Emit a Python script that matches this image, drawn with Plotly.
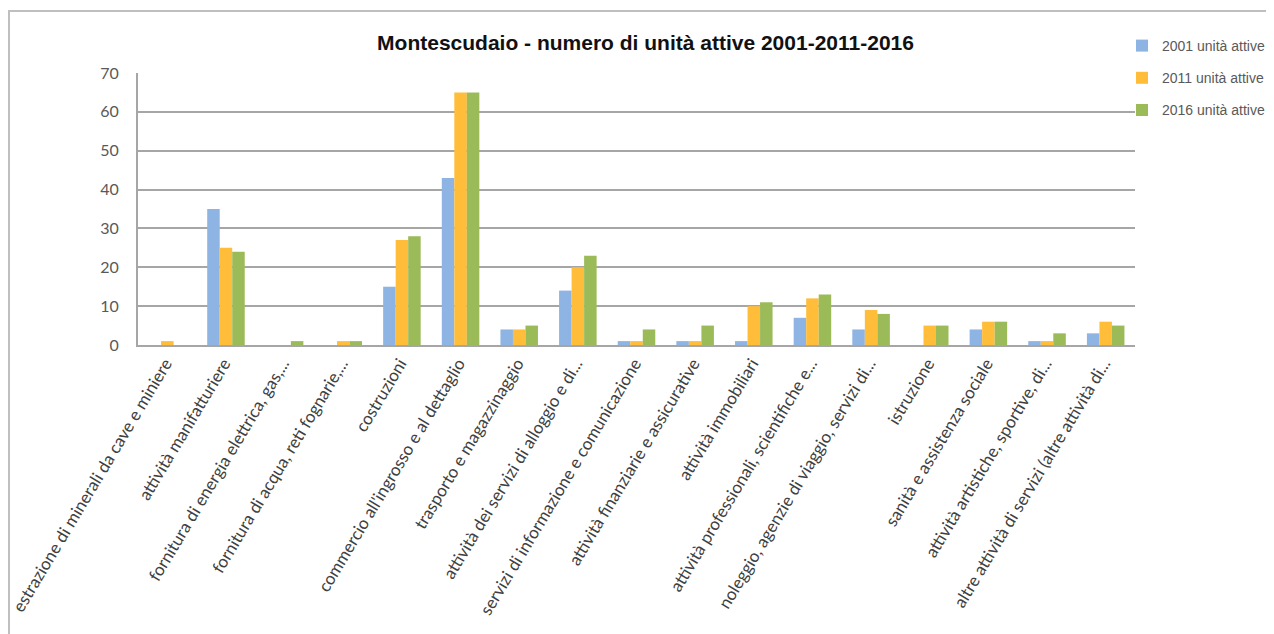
import plotly.graph_objects as go

categories = [
    "estrazione di minerali da cave e miniere",
    "attività manifatturiere",
    "fornitura di energia elettrica, gas,...",
    "fornitura di acqua, reti fognarie,...",
    "costruzioni",
    "commercio all'ingrosso e al dettaglio",
    "trasporto e magazzinaggio",
    "attività dei servizi di alloggio e di...",
    "servizi di informazione e comunicazione",
    "attività finanziarie e assicurative",
    "attività immobiliari",
    "attività professionali, scientifiche e...",
    "noleggio, agenzie di viaggio, servizi di...",
    "istruzione",
    "sanità e assistenza sociale",
    "attività artistiche, sportive, di...",
    "altre attività di servizi (altre attività di...",
]
series_names = ["2001 unità attive", "2011 unità attive", "2016 unità attive"]
values_2001 = [0, 35, 0, 0, 15, 43, 4, 14, 1, 1, 1, 7, 4, 0, 4, 1, 3]
values_2011 = [1, 25, 0, 1, 27, 65, 4, 20, 1, 1, 10, 12, 9, 5, 6, 1, 6]
values_2016 = [0, 24, 1, 1, 28, 65, 5, 23, 4, 5, 11, 13, 8, 5, 6, 3, 5]
y_ticks = [0, 10, 20, 30, 40, 50, 60, 70]

colors = ["#8DB4E2", "#FFBD3A", "#9BBB59"]

fig = go.Figure()
for i, (name, vals) in enumerate(zip(series_names, [values_2001, values_2011, values_2016])):
    fig.add_trace(go.Bar(
        x=categories, y=vals, name=name, marker_color=colors[i],
        marker_line_width=0, legendgroup=f"g{i}",
    ))

W, H = 1274, 634
L, T = 130, 65
pw, ph = 997, 272
R, B = W - L - pw, H - T - ph

fig.update_layout(
    width=W, height=H,
    margin=dict(l=L, r=R, t=T, b=B, pad=0, autoexpand=False),
    paper_bgcolor="white", plot_bgcolor="white",
    barmode="group", bargap=0.36, bargroupgap=0,
    title=dict(text="<b>Montescudaio - numero di unità attive 2001-2011-2016</b>",
               x=637.5 / W, xanchor="center", y=1 - 35 / H, yanchor="middle",
               font=dict(family="Liberation Sans, Arial", size=21, color="#111111")),
    legend=dict(x=(1114 - L) / pw, xanchor="left", y=1 + (T - 22) / ph, yanchor="top",
                font=dict(family="Liberation Sans, Arial", size=14, color="#595959"),
                traceorder="grouped", tracegroupgap=11, itemwidth=30,
                bgcolor="rgba(0,0,0,0)"),
    font=dict(family="Lato, Liberation Sans", color="#404040"),
    shapes=[dict(type="rect", xref="paper", yref="paper",
                 x0=(1 - L) / pw, x1=(W + 20 - L) / pw,
                 y0=-(B + 20) / ph, y1=1 + (T - 3) / ph,
                 line=dict(color="#BFBFBF", width=2), fillcolor="rgba(0,0,0,0)", layer="below")],
)
fig.update_yaxes(range=[0, 70], tickvals=y_ticks, showgrid=True, gridcolor="#A6A6A6", gridwidth=2,
                 showline=True, linecolor="#A6A6A6", linewidth=2, zeroline=False,
                 ticks="", ticklabelstandoff=14, automargin=False,
                 tickfont=dict(family="Lato, Liberation Sans", size=16, color="#595959"))
fig.update_xaxes(showline=True, linecolor="#A6A6A6", linewidth=2, showgrid=False,
                 tickangle=-59, ticks="", ticklabelstandoff=0, ticklabelshift=-2,
                 automargin=False,
                 tickfont=dict(family="Lato, Liberation Sans", size=17, color="#404040"))

fig.write_html("out.html")
